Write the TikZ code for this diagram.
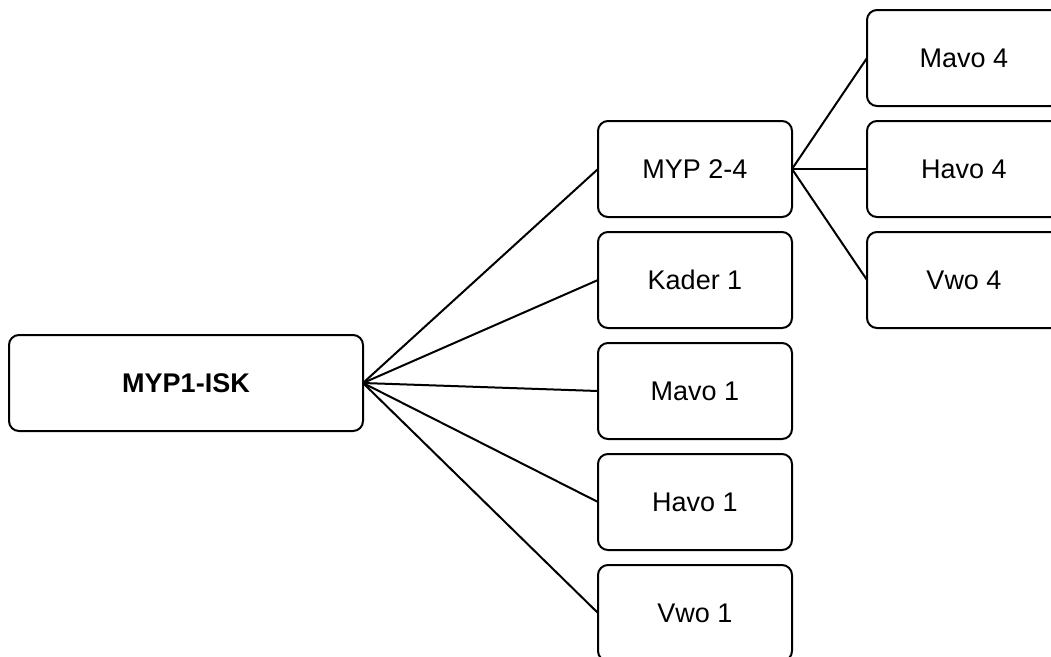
\documentclass[tikz,border=0pt]{standalone}
\usepackage{fontspec}
\setmainfont{Liberation Sans}
\begin{document}
\begin{tikzpicture}[x=1pt,y=-1pt,
  box/.style={draw=black,line width=2pt,rounded corners=10pt,fill=white,
    minimum width=194pt,minimum height=96pt,inner sep=0pt,outer sep=0pt,
    font=\fontsize{27}{32}\selectfont},
  rootbox/.style={box,minimum width=354pt,font=\fontsize{27}{32}\selectfont\bfseries},
  link/.style={line width=2pt}]
\useasboundingbox (0,0) rectangle (1051,656);
\fill[white] (0,0) rectangle (1051,656);
\node[rootbox] (root) at (186,383) {MYP1-ISK};
\node[box] (myp) at (695,169) {MYP 2-4};
\node[box] (kader) at (695,280) {Kader 1};
\node[box] (mavo1) at (695,391) {Mavo 1};
\node[box] (havo1) at (695,502) {Havo 1};
\node[box] (vwo1) at (695,613) {Vwo 1};
\node[box] (mavo4) at (964,58) {Mavo 4};
\node[box] (havo4) at (964,169) {Havo 4};
\node[box] (vwo4) at (964,280) {Vwo 4};
\foreach \t in {myp,kader,mavo1,havo1,vwo1}
  \draw[link] (root.east) -- (\t.west);
\foreach \t in {mavo4,havo4,vwo4}
  \draw[link] (myp.east) -- (\t.west);
\end{tikzpicture}
\end{document}
